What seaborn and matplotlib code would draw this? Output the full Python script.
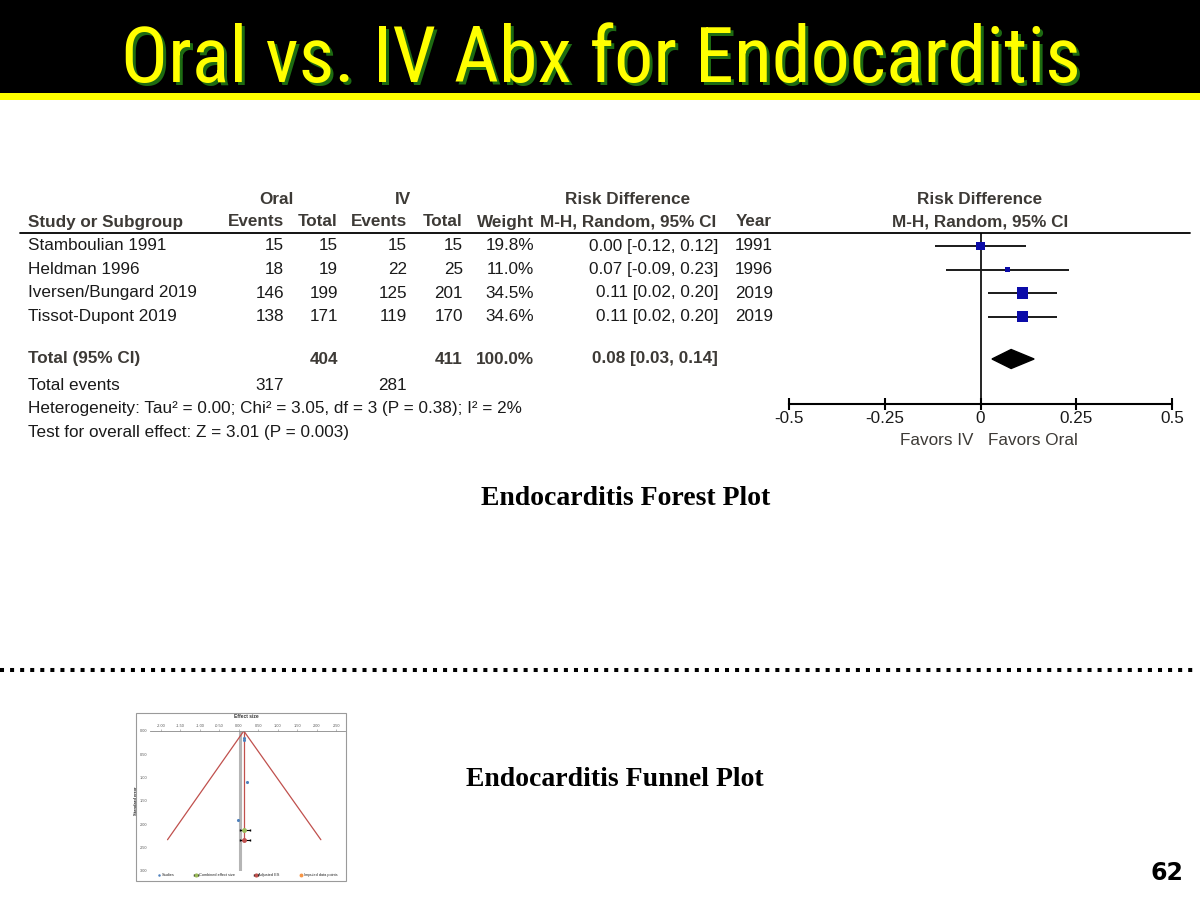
import matplotlib
matplotlib.use("Agg")
import matplotlib.pyplot as plt
from matplotlib import font_manager
from matplotlib.font_manager import FontProperties
from matplotlib.lines import Line2D
from matplotlib.patches import Rectangle
import seaborn as sns
import pandas as pd

# ---- data --------------------------------------------------------------
studies = ["Stamboulian 1991", "Heldman 1996", "Iversen/Bungard 2019", "Tissot-Dupont 2019"]
oral_events = [15, 18, 146, 138]
oral_total = [15, 19, 199, 171]
iv_events = [15, 22, 125, 119]
iv_total = [15, 25, 201, 170]
weight = [19.8, 11.0, 34.5, 34.6]
rd = [0.00, 0.07, 0.11, 0.11]
ci_low = [-0.12, -0.09, 0.02, 0.02]
ci_high = [0.12, 0.23, 0.20, 0.20]
years = [1991, 1996, 2019, 2019]

total_oral, total_iv = 404, 411
total_rd, total_low, total_high = 0.08, 0.03, 0.14
events_oral, events_iv = 317, 281
forest_ticks = [-0.5, -0.25, 0, 0.25, 0.5]
forest_ticklabels = ["-0.5", "-0.25", "0", "0.25", "0.5"]

# funnel plot
funnel_x = [0.13, 0.13, 0.20, -0.02]
funnel_se = [0.15, 0.19, 1.10, 1.90]
funnel_apex = (0.13, 0.0)
funnel_ends_x = [-1.83, 2.11]
funnel_ends_se = 2.33
combined_es, combined_se, combined_lo, combined_hi = 0.13, 2.13, 0.04, 0.29
adjusted_es, adjusted_se, adjusted_lo, adjusted_hi = 0.13, 2.34, 0.04, 0.29
funnel_xticks = [-2.0, -1.5, -1.0, -0.5, 0.0, 0.5, 1.0, 1.5, 2.0, 2.5]
funnel_yticks = [0.0, 0.5, 1.0, 1.5, 2.0, 2.5, 3.0]
funnel_legend = ["Studies", "Combined effect size", "Adjusted ES", "Imputed data points"]

# ---- style -------------------------------------------------------------
sns.set_theme(style="white")
plt.rcParams['font.family'] = ['Liberation Sans', 'DejaVu Sans']


def pick_narrow_font():
    # look for a condensed sans face for the title, else None
    wanted = ['Liberation Sans Narrow', 'Arial Narrow', 'Roboto Condensed',
              'Noto Sans Condensed', 'Open Sans Condensed', 'DejaVu Sans Condensed']
    fl = font_manager.fontManager.ttflist
    ok_w = lambda f: f.style == 'normal' and str(f.weight) in ('400', 'normal', 'regular', '500', 'medium')
    for w in wanted:
        for f in fl:
            if f.name == w and ok_w(f):
                return f.fname
    for f in fl:
        if f.stretch in ('condensed', 'semi-condensed', 'extra-condensed') and 'Sans' in f.name \
                and 'CJK' not in f.name and ok_w(f):
            return f.fname
    for f in fl:
        fn = f.fname.lower()
        if ('condensed' in fn or 'narrow' in fn) and 'sans' in fn and ok_w(f):
            return f.fname
    return None


W, H = 1200, 900
fig = plt.figure(figsize=(12, 9), dpi=100)


def P(x, y):
    return x / W, 1 - y / H


def txt(x, y, s, **kw):
    fx, fy = P(x, y)
    return fig.text(fx, fy, s, **kw)


HEAD = "#3d3a36"
BODY = "#1a1a1a"
FS = 12.3

# ---- title bar ---------------------------------------------------------
fig.patches.append(Rectangle(P(0, 93), 1, 93 / H, transform=fig.transFigure,
                             facecolor="black", edgecolor="none", zorder=-5))
fig.patches.append(Rectangle(P(0, 100), 1, 7 / H, transform=fig.transFigure,
                             facecolor="#ffff00", edgecolor="none", zorder=-5))
title = "Oral vs. IV Abx for Endocarditis"
narrow = pick_narrow_font()
if narrow:
    tp = FontProperties(fname=narrow, size=60)
else:
    tp = FontProperties(family='DejaVu Sans', size=60)
t_shadow = txt(604, 85, title, fontproperties=tp.copy(), color="#1d6b12", ha="center", va="baseline")
t_main = txt(601, 82, title, fontproperties=tp.copy(), color="#ffff00", ha="center", va="baseline")
# fit the title width to the slide (a bit under the 1013 px of the slide,
# the condensed face is taller than the original one)
r = fig.canvas.get_renderer()
wpx = t_main.get_window_extent(r).width
size = min(60 * 960 / wpx, 64)
for t in (t_shadow, t_main):
    t.set_fontsize(size)

# ---- table ---------------------------------------------------------------
row_px = [246, 269.5, 293, 316.5]
total_px = 359

txt(276, 199, "Oral", fontsize=FS, weight="bold", color=HEAD, ha="center", va="center")
txt(403, 199, "IV", fontsize=FS, weight="bold", color=HEAD, ha="center", va="center")
txt(628, 199, "Risk Difference", fontsize=FS, weight="bold", color=HEAD, ha="center", va="center")
txt(980, 199, "Risk Difference", fontsize=FS, weight="bold", color=HEAD, ha="center", va="center")

hdr = [(28, "Study or Subgroup", "left"), (284, "Events", "right"), (338, "Total", "right"),
       (407, "Events", "right"), (463, "Total", "right"), (534, "Weight", "right"),
       (628, "M-H, Random, 95% CI", "center"), (754, "Year", "center"),
       (980, "M-H, Random, 95% CI", "center")]
for x, s, a in hdr:
    txt(x, 222, s, fontsize=FS, weight="bold", color=HEAD, ha=a, va="center")

fig.add_artist(Line2D([20 / W, 1190 / W], [1 - 233 / H] * 2, color="black", lw=1.3))

for i, name in enumerate(studies):
    y = row_px[i]
    txt(28, y, name, fontsize=FS, color=BODY, ha="left", va="center")
    txt(284, y, str(oral_events[i]), fontsize=FS, color=BODY, ha="right", va="center")
    txt(338, y, str(oral_total[i]), fontsize=FS, color=BODY, ha="right", va="center")
    txt(407, y, str(iv_events[i]), fontsize=FS, color=BODY, ha="right", va="center")
    txt(463, y, str(iv_total[i]), fontsize=FS, color=BODY, ha="right", va="center")
    txt(534, y, f"{weight[i]:.1f}%", fontsize=FS, color=BODY, ha="right", va="center")
    txt(718, y, f"{rd[i]:.2f} [{ci_low[i]:.2f}, {ci_high[i]:.2f}]", fontsize=FS,
        color=BODY, ha="right", va="center")
    txt(754, y, str(years[i]), fontsize=FS, color=BODY, ha="center", va="center")

txt(28, total_px, "Total (95% CI)", fontsize=FS, weight="bold", color=HEAD, ha="left", va="center")
txt(338, total_px, str(total_oral), fontsize=FS, weight="bold", color=HEAD, ha="right", va="center")
txt(463, total_px, str(total_iv), fontsize=FS, weight="bold", color=HEAD, ha="right", va="center")
txt(534, total_px, "100.0%", fontsize=FS, weight="bold", color=HEAD, ha="right", va="center")
txt(718, total_px, f"{total_rd:.2f} [{total_low:.2f}, {total_high:.2f}]", fontsize=FS,
    weight="bold", color=HEAD, ha="right", va="center")
txt(28, 386, "Total events", fontsize=FS, color=BODY, ha="left", va="center")
txt(284, 386, str(events_oral), fontsize=FS, color=BODY, ha="right", va="center")
txt(407, 386, str(events_iv), fontsize=FS, color=BODY, ha="right", va="center")
txt(28, 409, "Heterogeneity: Tau\u00b2 = 0.00; Chi\u00b2 = 3.05, df = 3 (P = 0.38); I\u00b2 = 2%",
    fontsize=FS, color=BODY, ha="left", va="center")
txt(28, 432, "Test for overall effect: Z = 3.01 (P = 0.003)", fontsize=FS, color=BODY,
    ha="left", va="center")

# ---- forest plot -------------------------------------------------------
ax = fig.add_axes([789 / W, 1 - 404 / H, (1172 - 789) / W, (404 - 233) / H])
ax.set_xlim(-0.5, 0.5)
ax.set_ylim(404, 233)
ax.axvline(0, color="black", lw=1.2)
ax.hlines(row_px, ci_low, ci_high, color="#1a1a1a", lw=1.4)
df = pd.DataFrame({"rd": rd, "row": row_px, "weight": weight})
sns.scatterplot(data=df, x="rd", y="row", size="weight", sizes=(14, 66), marker="s",
                color="#0b0ba8", linewidth=0, legend=False, ax=ax, zorder=3)
dh = 9.5
ax.fill([total_low, total_rd, total_high, total_rd],
        [total_px, total_px - dh, total_px, total_px + dh], color="black", zorder=3)
for side in ["top", "left", "right"]:
    ax.spines[side].set_visible(False)
ax.spines["bottom"].set_linewidth(1.5)
ax.spines["bottom"].set_color("black")
ax.set_xticks(forest_ticks)
ax.set_xticklabels(forest_ticklabels)
ax.set_yticks([])
ax.set_xlabel("")
ax.set_ylabel("")
ax.tick_params(axis="x", direction="inout", length=8, width=1.5, color="black",
               labelsize=FS, labelcolor=BODY, pad=1, bottom=True)
ax.patch.set_alpha(0)

txt(973, 440, "Favors IV", fontsize=FS, color=HEAD, ha="right", va="center")
txt(988, 440, "Favors Oral", fontsize=FS, color=HEAD, ha="left", va="center")

txt(626, 499, "Endocarditis Forest Plot", family="Liberation Serif", weight="bold",
    fontsize=20, color="black", ha="center", va="center")

# ---- dotted separator --------------------------------------------------
fig.add_artist(Line2D([0, 1195 / W], [1 - 670 / H] * 2, color="black", lw=2.9,
                      linestyle=(0, (1.0, 1.5)), dash_capstyle="butt"))

# ---- funnel plot -------------------------------------------------------
fig.patches.append(Rectangle(P(136, 881), 210 / W, 168 / H, transform=fig.transFigure,
                             facecolor="none", edgecolor="#9a9a9a", lw=0.8, zorder=-5))
fx0, fx1 = -2.28, 2.73
fax = fig.add_axes([150 / W, 1 - 871 / H, (345 - 150) / W, (871 - 731) / H])
fax.set_xlim(fx0, fx1)
fax.set_ylim(3.0, 0.0)
fax.axvline(0.02, color="#b5b5b5", lw=2.2, zorder=1)
fax.plot([funnel_ends_x[0], funnel_apex[0], funnel_ends_x[1]],
         [funnel_ends_se, funnel_apex[1], funnel_ends_se], color="#c0504d", lw=0.9)
fax.plot([funnel_apex[0], funnel_apex[0]], [funnel_apex[1], funnel_ends_se],
         color="#c0504d", lw=0.9)
sns.scatterplot(x=funnel_x, y=funnel_se, color="#4f81bd", s=5, linewidth=0,
                ax=fax, zorder=4, label=funnel_legend[0])
fax.errorbar([combined_es], [combined_se],
             xerr=[[combined_es - combined_lo], [combined_hi - combined_es]],
             fmt="o", ms=2.5, color="#9bbb59", ecolor="black", elinewidth=0.8,
             capsize=1, zorder=5, label=funnel_legend[1])
fax.errorbar([adjusted_es], [adjusted_se],
             xerr=[[adjusted_es - adjusted_lo], [adjusted_hi - adjusted_es]],
             fmt="o", ms=2.5, color="#c0504d", ecolor="black", elinewidth=0.8,
             capsize=1, zorder=5, label=funnel_legend[2])
fax.scatter([], [], color="#f79646", s=5, label=funnel_legend[3])
fax.xaxis.tick_top()
fax.set_xticks(funnel_xticks)
fax.set_xticklabels([f"{v:.2f}" for v in funnel_xticks])
fax.set_yticks(funnel_yticks)
fax.set_yticklabels([f"{v:.2f}" for v in funnel_yticks])
fax.tick_params(labelsize=2.8, labelcolor="#555555", length=1.2, width=0.4,
                color="#888888", pad=1, top=True, bottom=False)
for side in ["bottom", "left", "right"]:
    fax.spines[side].set_visible(False)
fax.spines["top"].set_color("#888888")
fax.spines["top"].set_linewidth(0.6)
fax.set_ylabel("Standard error", fontsize=3, weight="bold", labelpad=1)
fax.set_xlabel("")
fax.patch.set_alpha(0)
txt(246, 717, "Effect size", fontsize=3.5, weight="bold", color="#333333",
    ha="center", va="center")
hs, ls = fax.get_legend_handles_labels()
lookup = dict(zip(ls, hs))
fax.legend([lookup[k] for k in funnel_legend], funnel_legend,
           loc="upper center", bbox_to_anchor=(0.5, -0.005), ncol=4, fontsize=2.8,
           frameon=False, handlelength=0.8, columnspacing=5, markerscale=0.8,
           handletextpad=0.3, borderaxespad=0)

txt(615, 779, "Endocarditis Funnel Plot", family="Liberation Serif", weight="bold",
    fontsize=20, color="black", ha="center", va="center")

# ---- page number -------------------------------------------------------
txt(1167, 873, "62", fontsize=17, weight="bold", family="DejaVu Sans", color="black",
    ha="center", va="center")

fig.savefig("out.png", dpi=100, facecolor="white")
